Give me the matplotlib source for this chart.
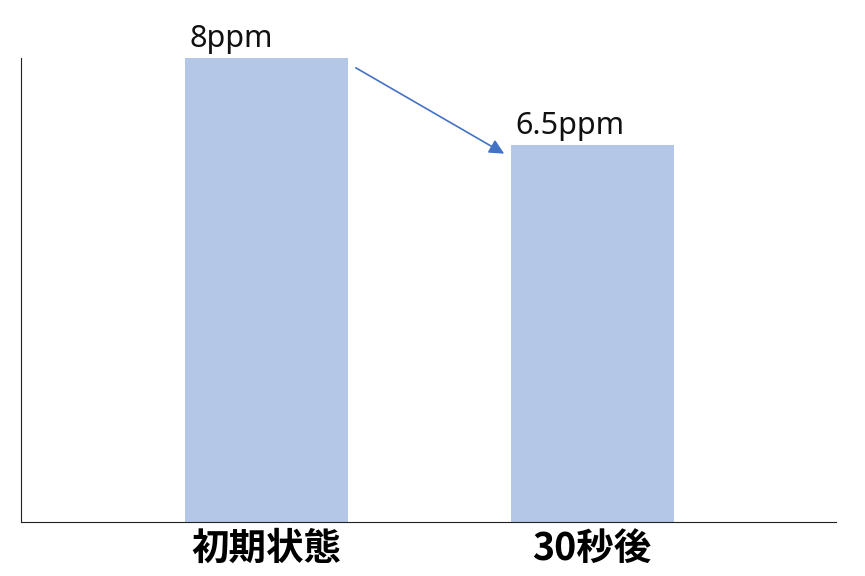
import matplotlib.pyplot as plt
import numpy as np

categories = ['初期状態', '30秒後']
values = [8, 6.5]
value_labels = ['8ppm', '6.5ppm']

plt.rcParams['font.family'] = ['Noto Sans CJK JP', 'DejaVu Sans']

fig = plt.figure(figsize=(8.65, 5.76), dpi=100)
ax = fig.add_axes([0.0243, 0.0938, 0.9422, 0.8056])

x = np.arange(len(categories))
width = 0.5
bars = ax.bar(x, values, width=width, color='#B4C7E7')

ax.set_xlim(-0.752, 1.748)
ax.set_ylim(0, 8)

for bar, label in zip(bars, value_labels):
    ax.annotate(label, (bar.get_x(), bar.get_height()),
                xytext=(5, 11), textcoords='offset pixels',
                ha='left', va='baseline', fontsize=22,
                family=['Noto Sans', 'DejaVu Sans'], color='#111111')

# arrow from first bar top toward second bar
b1, b2 = bars[0], bars[1]
ax.annotate('', xy=(b2.get_x() - 0.02, b2.get_height() - 0.15),
            xytext=(b1.get_x() + b1.get_width() + 0.025, b1.get_height() - 0.17),
            arrowprops=dict(arrowstyle='-|>', color='#4472C4', lw=1.2,
                            mutation_scale=22, shrinkA=0, shrinkB=0),
            annotation_clip=False)

ax.set_xticks(x)
ax.set_xticklabels(categories, fontsize=27, fontweight='bold')
ax.tick_params(axis='x', length=0, pad=5)
ax.set_yticks([])

ax.spines['top'].set_visible(False)
ax.spines['right'].set_visible(False)
ax.spines['left'].set_color('#222222')
ax.spines['bottom'].set_color('#222222')

plt.savefig('out.png', dpi=100)
